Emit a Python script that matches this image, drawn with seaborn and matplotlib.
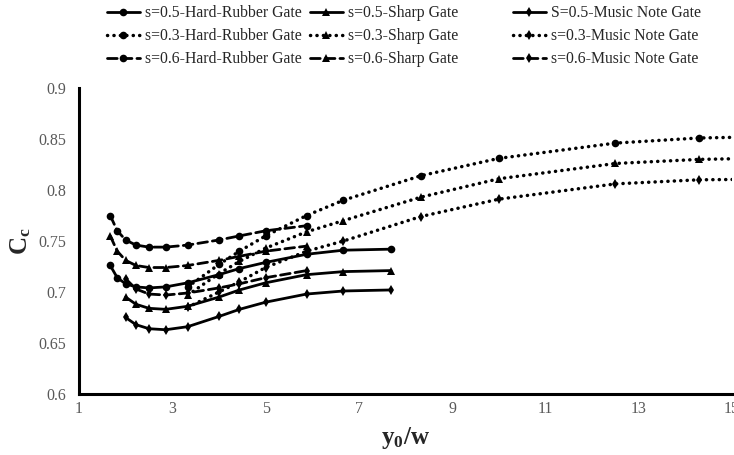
import matplotlib
matplotlib.use("Agg")
import matplotlib.pyplot as plt
import seaborn as sns

# ---- data: contraction coefficient Cc against relative upstream depth y0/w ----
# s = 0.6 (dashed)
x_hr06 = [1.67, 1.82, 2.0, 2.22, 2.5, 2.86, 3.33, 4.0, 4.44, 5.0, 5.88]
cc_hr06 = [0.775, 0.760, 0.751, 0.746, 0.744, 0.744, 0.746, 0.751, 0.755, 0.760, 0.765]
x_sh06 = [1.67, 1.82, 2.0, 2.22, 2.5, 2.86, 3.33, 4.0, 4.44, 5.0, 5.88]
cc_sh06 = [0.755, 0.740, 0.731, 0.726, 0.724, 0.724, 0.726, 0.731, 0.735, 0.740, 0.745]
x_mn06 = [2.0, 2.22, 2.5, 2.86, 3.33, 4.0, 4.44, 5.0, 5.88]
cc_mn06 = [0.713, 0.703, 0.698, 0.697, 0.699, 0.704, 0.708, 0.714, 0.721]

# s = 0.5 (solid)
x_hr05 = [1.67, 1.82, 2.0, 2.22, 2.5, 2.86, 3.33, 4.0, 4.44, 5.0, 5.88, 6.67, 7.69]
cc_hr05 = [0.726, 0.714, 0.708, 0.705, 0.704, 0.705, 0.709, 0.717, 0.723, 0.729, 0.737, 0.741, 0.742]
x_sh05 = [2.0, 2.22, 2.5, 2.86, 3.33, 4.0, 4.44, 5.0, 5.88, 6.67, 7.69]
cc_sh05 = [0.695, 0.688, 0.684, 0.683, 0.686, 0.695, 0.702, 0.709, 0.717, 0.720, 0.721]
x_mn05 = [2.0, 2.22, 2.5, 2.86, 3.33, 4.0, 4.44, 5.0, 5.88, 6.67, 7.69]
cc_mn05 = [0.675, 0.668, 0.664, 0.663, 0.666, 0.676, 0.683, 0.690, 0.698, 0.701, 0.702]

# s = 0.3 (dotted)
x_03 = [3.33, 4.0, 4.44, 5.0, 5.88, 6.67, 8.33, 10.0, 12.5, 14.29, 16.67]
cc_hr03 = [0.705, 0.727, 0.740, 0.755, 0.775, 0.790, 0.814, 0.831, 0.846, 0.851, 0.853]
cc_sh03 = [0.697, 0.718, 0.730, 0.743, 0.759, 0.770, 0.793, 0.811, 0.826, 0.830, 0.832]
cc_mn03 = [0.685, 0.700, 0.710, 0.724, 0.740, 0.750, 0.774, 0.791, 0.806, 0.810, 0.811]

x_ticks = [1, 3, 5, 7, 9, 11, 13, 15]
y_ticks = [0.6, 0.65, 0.7, 0.75, 0.8, 0.85, 0.9]
y_tick_labels = ["0.6", "0.65", "0.7", "0.75", "0.8", "0.85", "0.9"]

sns.set_theme(style="white")
plt.rcParams["font.family"] = ["Liberation Serif", "DejaVu Serif"]
plt.rcParams["mathtext.fontset"] = "custom"
plt.rcParams["mathtext.rm"] = "Liberation Serif"
plt.rcParams["mathtext.it"] = "Liberation Serif:italic"
plt.rcParams["mathtext.bf"] = "Liberation Serif:bold"

fig = plt.figure(figsize=(7.34, 4.55), dpi=100)
ax = fig.add_axes([79 / 734, 1 - 394 / 455, (732 - 79) / 734, (394 - 88) / 455])

SOLID = "-"
DASHED = (0, (3.5, 1.8))
DOTTED = (0, (0.05, 1.8))

series = [
    # (label, x, y, linestyle, linewidth, marker, marker size)
    ("s=0.5-Hard-Rubber Gate", x_hr05, cc_hr05, SOLID, 2.0, "o", 5.5),
    ("s=0.3-Hard-Rubber Gate", x_03, cc_hr03, DOTTED, 2.5, "o", 5.5),
    ("s=0.6-Hard-Rubber Gate", x_hr06, cc_hr06, DASHED, 2.0, "o", 5.5),
    ("s=0.5-Sharp Gate", x_sh05, cc_sh05, SOLID, 2.0, "^", 6),
    ("s=0.3-Sharp Gate", x_03, cc_sh03, DOTTED, 2.5, "^", 6),
    ("s=0.6-Sharp Gate", x_sh06, cc_sh06, DASHED, 2.0, "^", 6),
    ("S=0.5-Music Note Gate", x_mn05, cc_mn05, SOLID, 2.0, "d", 5.5),
    ("s=0.3-Music Note Gate", x_03, cc_mn03, DOTTED, 2.5, "d", 5.5),
    ("s=0.6-Music Note Gate", x_mn06, cc_mn06, DASHED, 2.0, "d", 5.5),
]

handles = []
for label, xs, ys, ls, lw, mk, ms in series:
    sns.lineplot(x=xs, y=ys, ax=ax, color="black", linestyle=ls, linewidth=lw,
                 marker=mk, markersize=ms, markeredgewidth=0, label=label,
                 dash_capstyle="round", legend=False)
    handles.append(ax.lines[-1])

ax.set_xlim(1, 15)
ax.set_ylim(0.6, 0.9)
ax.set_xticks(x_ticks)
ax.set_xticklabels([str(v) for v in x_ticks])
ax.set_yticks(y_ticks)
ax.set_yticklabels(y_tick_labels)
ax.tick_params(axis="both", length=0, labelsize=11.5, labelcolor="#595959")
ax.tick_params(axis="y", pad=9)
ax.tick_params(axis="x", pad=5)
ax.grid(False)

for side in ("top", "right"):
    ax.spines[side].set_visible(False)
for side in ("left", "bottom"):
    ax.spines[side].set_color("black")
    ax.spines[side].set_linewidth(2.2)

ax.set_xlabel(r"$\mathbf{y_0/w}$", fontsize=18, labelpad=6)
ax.set_ylabel(r"$\mathbf{C_c}$", fontsize=18, labelpad=4)

# legend: one column per gate type
col_x = [107, 310, 513]
for i, cx in enumerate(col_x):
    hs = handles[3 * i:3 * i + 3]
    fig.legend(handles=hs, labels=[h.get_label() for h in hs],
               loc="upper left", bbox_to_anchor=(cx / 734, 1 - 5 / 455),
               frameon=False, fontsize=11.3, ncol=1, borderpad=0,
               borderaxespad=0, handlelength=2.1, handletextpad=0.3,
               labelspacing=0.45)

fig.savefig("out.png", dpi=100)
